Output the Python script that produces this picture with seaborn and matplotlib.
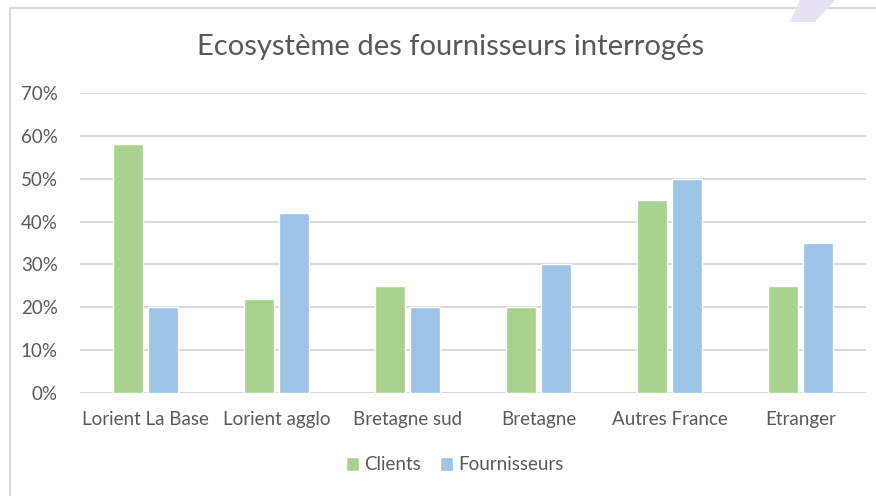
import matplotlib
matplotlib.use('Agg')
import matplotlib.pyplot as plt
from matplotlib.patches import Rectangle, Polygon
from matplotlib.ticker import PercentFormatter
import seaborn as sns
import pandas as pd

categories = ['Lorient La Base', 'Lorient agglo', 'Bretagne sud', 'Bretagne', 'Autres France', 'Etranger']
clients = [0.58, 0.22, 0.25, 0.20, 0.45, 0.25]
fournisseurs = [0.20, 0.42, 0.20, 0.30, 0.50, 0.35]
series = ['Clients', 'Fournisseurs']
colors = ['#A9D18E', '#9DC3E6']

df = pd.DataFrame({'zone': categories * 2,
                   'serie': [series[0]] * len(categories) + [series[1]] * len(categories),
                   'val': clients + fournisseurs})

sns.set_style('white')
plt.rcParams['font.family'] = ['Lato', 'DejaVu Sans']
txt = '#595959'

fig = plt.figure(figsize=(8.76, 4.96), dpi=100)
# chart frame (Excel-like border) and the small lavender shape top right
fig.patches.append(Rectangle((10 / 876, -0.01), 1.0, 1 - 8 / 496 + 0.01, transform=fig.transFigure,
                             fill=False, edgecolor='#D9D9D9', linewidth=1.5))
fig.patches.append(Polygon([(800 / 876, 1), (835 / 876, 1), (815 / 876, 1 - 22 / 496), (790 / 876, 1 - 22 / 496)],
                           closed=True, transform=fig.transFigure, facecolor='#E6E1F0', edgecolor='none'))

ax = fig.add_axes([80 / 876, 1 - 393 / 496, 786 / 876, 300 / 496])
sns.barplot(data=df, x='zone', y='val', hue='serie', palette=colors, width=0.52, gap=0.12,
            saturation=1, ax=ax, legend=True)

ax.set_ylim(0, 0.70)
ax.set_xlim(-0.5, 5.5)
ax.set_yticks([i / 10 for i in range(8)])
ax.yaxis.set_major_formatter(PercentFormatter(1.0, decimals=0))
ax.grid(axis='y', color='#D9D9D9', linewidth=1.5)
ax.set_axisbelow(True)
for s in ax.spines.values():
    s.set_visible(False)
ax.set_xlabel('')
ax.set_ylabel('')
ax.tick_params(axis='both', length=0, labelsize=13.5, labelcolor=txt)
ax.tick_params(axis='x', pad=13)
ax.tick_params(axis='y', pad=16)

ax.legend(loc='center', bbox_to_anchor=(0.477, -0.24), ncol=2, frameon=False, fontsize=13.5,
          labelcolor=txt, handlelength=0.7, handleheight=0.7, handletextpad=0.3, columnspacing=1.0)

fig.text(451 / 876, 1 - 47 / 496, 'Ecosystème des fournisseurs interrogés', ha='center', va='center',
         fontsize=21, color=txt)

fig.savefig('out.png', dpi=100)
